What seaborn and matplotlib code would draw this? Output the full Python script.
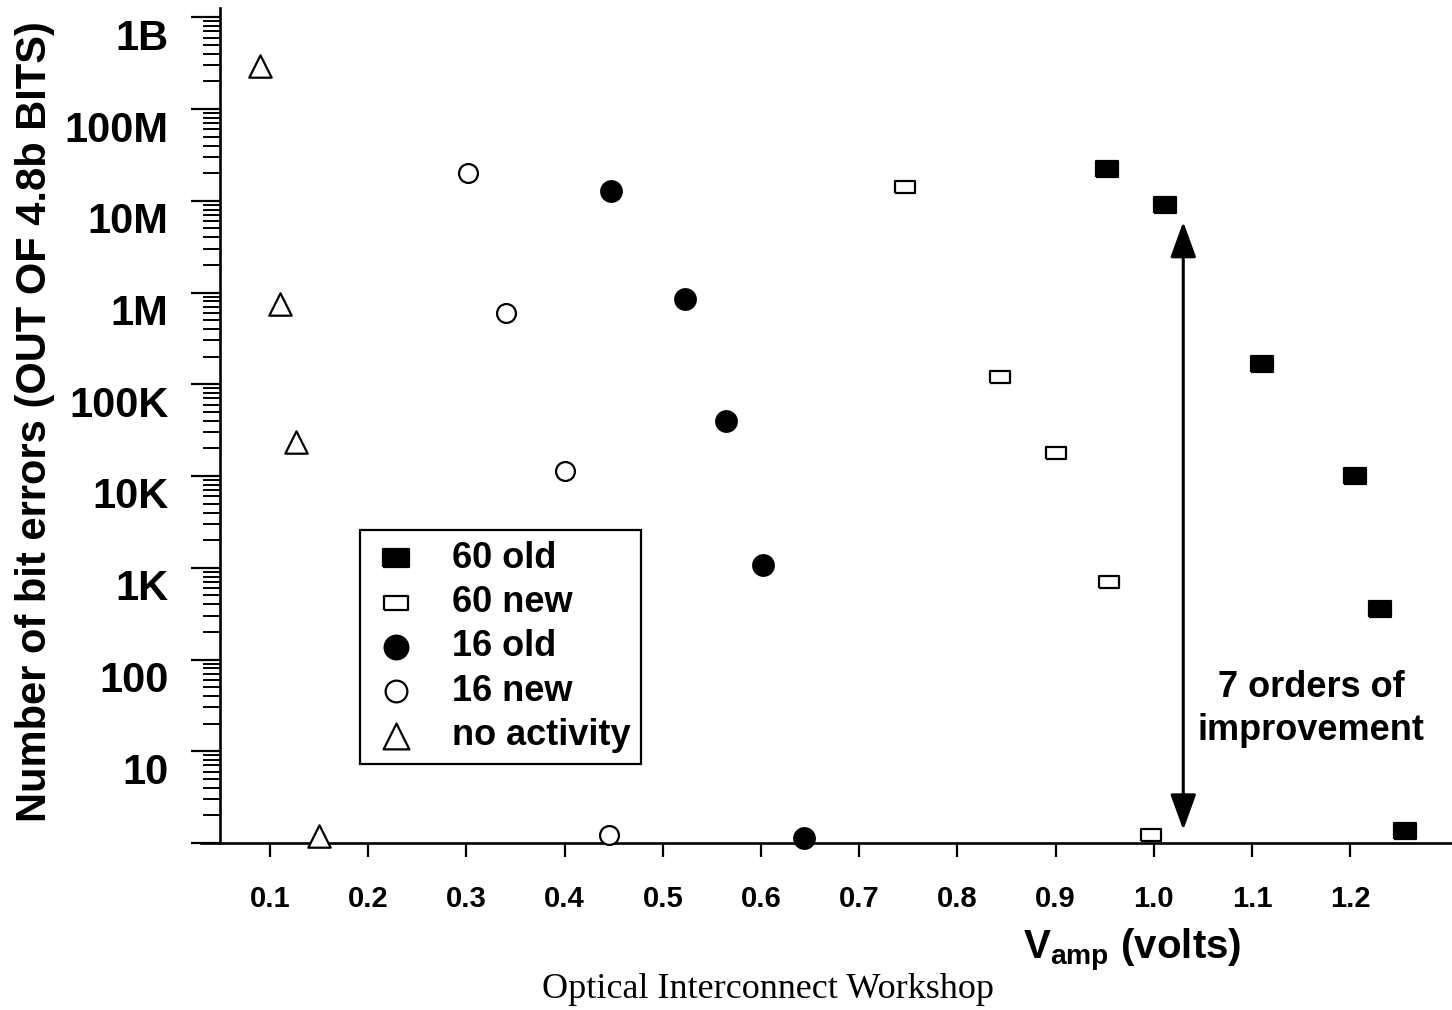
import matplotlib
matplotlib.use("Agg")

import numpy as np
import pandas as pd
import seaborn as sns
import matplotlib.pyplot as plt
from matplotlib import ticker, transforms

# values (x in volts, y = bit errors)
old60_v = [0.952, 1.011, 1.110, 1.205, 1.230, 1.256]
old60_err = [2.2e7, 8.9e6, 1.67e5, 1.0e4, 355, 1.35]
new60_v = [0.747, 0.843, 0.900, 0.954, 0.997]
new60_err = [1.42e7, 1.2e5, 1.8e4, 700, 1.22]
old16_v = [0.447, 0.523, 0.564, 0.602, 0.644]
old16_err = [1.29e7, 8.5e5, 4.0e4, 1.07e3, 1.13]
new16_v = [0.302, 0.340, 0.400, 0.445]
new16_err = [2.0e7, 6.0e5, 1.14e4, 1.22]
noact_v = [0.090, 0.110, 0.126, 0.150]
noact_err = [2.96e8, 7.4e5, 2.35e4, 1.2]

x_ticks = [0.1, 0.2, 0.3, 0.4, 0.5, 0.6, 0.7, 0.8, 0.9, 1.0, 1.1, 1.2]
x_labels = ["0.1", "0.2", "0.3", "0.4", "0.5", "0.6", "0.7", "0.8", "0.9", "1.0", "1.1", "1.2"]
y_ticks = [1, 1e1, 1e2, 1e3, 1e4, 1e5, 1e6, 1e7, 1e8, 1e9]
y_labels = ["", "10", "100", "1K", "10K", "100K", "1M", "10M", "100M", "1B"]

sns.set_style("ticks")
plt.rcParams["font.family"] = ["Liberation Sans", "DejaVu Sans"]
plt.rcParams["font.weight"] = "bold"
plt.rcParams["text.color"] = "black"
plt.rcParams["axes.labelcolor"] = "black"
plt.rcParams["xtick.color"] = "black"
plt.rcParams["ytick.color"] = "black"
plt.rcParams["mathtext.fontset"] = "custom"
plt.rcParams["mathtext.rm"] = "Liberation Sans:bold"
plt.rcParams["mathtext.bf"] = "Liberation Sans:bold"
plt.rcParams["mathtext.it"] = "Liberation Sans:bold"

fig = plt.figure(figsize=(14.52, 10.10), dpi=100)
ax = fig.add_axes([220 / 1452, 1 - 843 / 1010, 1 - 220 / 1452, (843 - 8) / 1010])

wide_rect = [(-1.45, -1), (1.45, -1), (1.45, 1), (-1.45, 1), (-1.45, -1)]
open_rect = [(-1.6, -1), (1.6, -1), (1.6, 1), (-1.6, 1), (-1.6, -1)]

series = [
    ("60 old", old60_v, old60_err, wide_rect, "black", 250),
    ("60 new", new60_v, new60_err, open_rect, "white", 210),
    ("16 old", old16_v, old16_err, "o", "black", 220),
    ("16 new", new16_v, new16_err, "o", "white", 185),
    ("no activity", noact_v, noact_err, "^", "white", 260),
]

for label, xs, ys, mk, fc, size in series:
    df = pd.DataFrame({"Vamp": xs, "errors": ys})
    sns.scatterplot(data=df, x="Vamp", y="errors", marker=mk, s=size,
                    facecolor=fc, edgecolor="black", linewidth=1.6,
                    label=label, ax=ax, zorder=3, clip_on=False)

ax.set_yscale("log")
ax.set_ylim(1, 10 ** ((843 - 8) / 91.75))
xmin, xmax = 0.1 - 50 / 982, 0.1 + (1452 - 270) / 982
ax.set_xlim(xmin, xmax)

ax.set_xticks(x_ticks)
ax.set_xticklabels(x_labels, fontsize=21, fontweight="bold")
ax.yaxis.set_major_locator(ticker.FixedLocator(y_ticks))
ax.yaxis.set_major_formatter(ticker.FixedFormatter(y_labels))
ax.yaxis.set_minor_locator(ticker.LogLocator(base=10, subs=np.arange(2, 10), numticks=20))
ax.yaxis.set_minor_formatter(ticker.NullFormatter())

ax.tick_params(axis="x", which="major", direction="out", length=10, width=1.6, pad=20)
ax.tick_params(axis="y", which="major", direction="out", length=21, width=1.6, pad=16, labelsize=30)
ax.tick_params(axis="y", which="minor", direction="out", length=12, width=1.4)
for lab in ax.get_yticklabels():
    lab.set_fontweight("bold")
    lab.set_transform(lab.get_transform() + transforms.ScaledTranslation(0, -0.17, fig.dpi_scale_trans))

sns.despine(ax=ax)
for side in ["left", "bottom"]:
    ax.spines[side].set_linewidth(1.9)
    ax.spines[side].set_color("black")
ax.spines["bottom"].set_bounds(0.1 - 69 / 982, xmax)

ax.set_ylabel("Number of bit errors (OUT OF 4.8b BITS)", fontsize=30, fontweight="bold")
ax.yaxis.set_label_coords((35 - 220) / 1232, (843 - 422) / 835)
ax.yaxis.label.set_va("center")

ax.set_xlabel(r"$\mathbf{V}_{\mathbf{amp}}$ (volts)", fontsize=29, fontweight="bold")
ax.xaxis.set_label_coords((1132 - 220) / 1232, (843 - 950) / 835)
ax.xaxis.label.set_va("center")

# double arrow showing the improvement
ax.annotate("", xy=(1.030, 1.39), xytext=(1.030, 5.9e6),
            arrowprops=dict(arrowstyle="<|-|>,head_length=1.1,head_width=0.4",
                            mutation_scale=20, lw=2.2, color="black",
                            shrinkA=0, shrinkB=0))
ax.text(1.16, 10 ** ((843 - 709) / 91.75), "7 orders of\nimprovement", fontsize=26,
        fontweight="bold", ha="center", va="center", linespacing=1.3)

leg = ax.legend(loc="lower left", bbox_to_anchor=((360 - 220) / 1232, (843 - 764) / 835),
                borderaxespad=0, frameon=True, fancybox=False, edgecolor="black",
                prop={"size": 26, "weight": "bold"}, handletextpad=0.84,
                labelspacing=0.26, borderpad=0.3, handlelength=1.4, markerscale=1.15)
leg.get_frame().set_linewidth(1.6)
leg.get_frame().set_alpha(1)

fig.text(0.529, 1 - 990 / 1010, "Optical Interconnect Workshop", fontsize=26,
         family="Liberation Serif", fontweight="normal", ha="center", va="center")

fig.savefig("out.png", dpi=100)
